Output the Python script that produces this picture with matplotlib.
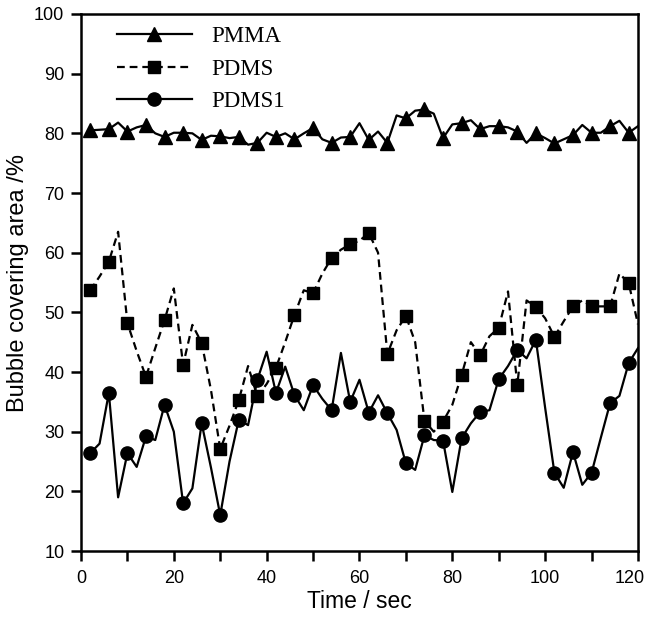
import matplotlib
matplotlib.use("Agg")
import matplotlib.pyplot as plt
import matplotlib.transforms as mtransforms
import numpy as np

time_s = list(range(2, 121, 2))

pmma = [80.5, 80.6, 80.7, 81.8, 80.3, 81.0, 81.4, 80.0, 79.4, 80.1,
        80.1, 80.0, 78.9, 79.6, 79.5, 79.2, 79.4, 78.1, 78.4, 80.1,
        79.4, 80.0, 79.0, 80.0, 80.9, 79.0, 78.4, 79.3, 79.4, 81.7,
        78.9, 80.3, 78.4, 83.0, 82.5, 83.8, 84.0, 83.3, 79.2, 81.5,
        81.7, 82.2, 80.7, 81.2, 81.2, 81.0, 80.3, 78.4, 80.0, 79.2,
        78.3, 79.0, 79.7, 81.4, 80.1, 80.1, 81.2, 82.1, 80.1, 81.2]

pdms = [53.7, 56.0, 58.5, 63.5, 48.2, 43.5, 39.2, 44.0, 48.7, 54.0,
        41.2, 47.9, 44.9, 37.0, 27.1, 31.0, 35.3, 41.0, 35.9, 38.0,
        40.7, 45.0, 49.6, 53.7, 53.2, 56.5, 59.1, 60.5, 61.4, 62.0,
        63.3, 60.0, 43.0, 47.0, 49.4, 45.0, 31.8, 30.0, 31.7, 34.5,
        39.5, 45.0, 42.8, 46.0, 47.4, 53.5, 37.8, 52.0, 50.9, 49.0,
        45.9, 48.5, 51.0, 52.0, 51.0, 51.0, 51.0, 56.5, 54.9, 48.0]

pdms1 = [26.4, 28.0, 36.5, 19.0, 26.4, 24.1, 29.2, 28.6, 34.5, 30.0,
         18.0, 20.5, 31.4, 24.0, 16.0, 25.0, 32.0, 31.1, 38.7, 43.4,
         36.5, 40.9, 36.1, 33.6, 37.8, 35.5, 33.6, 43.2, 35.0, 38.7,
         33.2, 36.1, 33.1, 30.3, 24.7, 23.6, 29.4, 28.6, 28.5, 19.9,
         28.9, 31.4, 33.3, 33.6, 38.8, 41.0, 43.7, 42.3, 45.4, 34.0,
         23.1, 20.6, 26.6, 21.1, 23.1, 29.0, 34.8, 36.0, 41.5, 44.0]

labels = ["PMMA", "PDMS", "PDMS1"]
xticks = [0, 20, 40, 60, 80, 100, 120]
yticks = [10, 20, 30, 40, 50, 60, 70, 80, 90, 100]

fig = plt.figure(figsize=(6.51, 6.22), dpi=100)
ax = fig.add_axes([0.1244, 0.1141, 0.980 - 0.1244, 0.9775 - 0.1141])

lw = 1.6
ax.plot(time_s, pmma, color="black", lw=lw, marker="^", markersize=10.5,
        markevery=2, label=labels[0])
ax.plot(time_s, pdms, color="black", lw=lw, ls=(0, (3.5, 2.2)), marker="s",
        markersize=9, markevery=2, label=labels[1])
ax.plot(time_s, pdms1, color="black", lw=lw, marker="o", markersize=9.5,
        markevery=2, label=labels[2])

ax.set_xlim(0, 120)
ax.set_ylim(10, 100)
ax.set_xticks(xticks)
ax.set_xticks([10, 30, 50, 70, 90, 110], minor=True)
ax.set_yticks(yticks)
ax.tick_params(axis="both", which="both", direction="out", length=7,
               width=1.8, labelsize=13, top=False, right=False)
ax.tick_params(axis="x", pad=7)
ax.tick_params(axis="y", pad=5)
for s in ax.spines.values():
    s.set_linewidth(1.8)

for t in ax.get_xticklabels() + ax.get_yticklabels():
    t.set_fontfamily("Liberation Sans")

# keep the last x tick label inside the figure
last = ax.get_xticklabels()[-1]
last.set_transform(last.get_transform() +
                   mtransforms.ScaledTranslation(-8 / 100, 0, fig.dpi_scale_trans))

ax.set_xlabel("Time / sec", fontsize=16.5, family="Liberation Sans", labelpad=2)
ax.set_ylabel("Bubble covering area /%", fontsize=17, family="Liberation Sans",
              labelpad=4)

leg = ax.legend(loc="upper left", bbox_to_anchor=(0.064, 0.977), frameon=False,
                borderpad=0, borderaxespad=0, handlelength=3.3,
                handletextpad=0.85, labelspacing=0.5, numpoints=1,
                prop={"family": "Liberation Serif", "size": 16.5})

fig.savefig("out.png", dpi=100)
